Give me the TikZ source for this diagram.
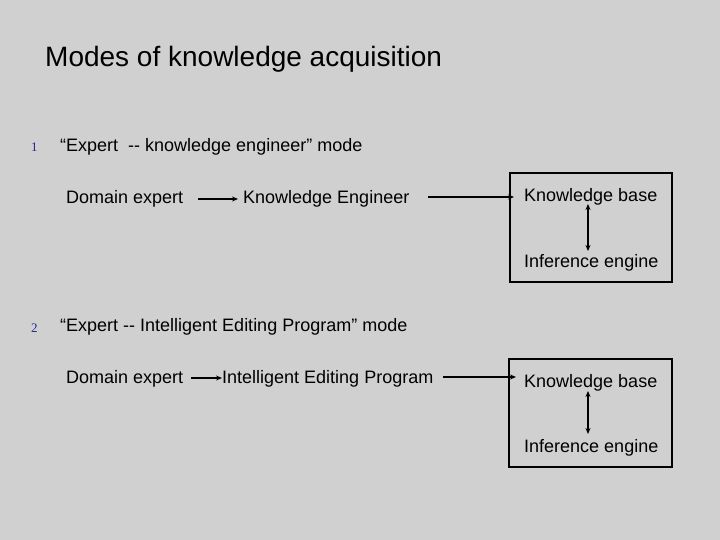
\documentclass[tikz,border=0pt]{standalone}
\usepackage{fontspec}
\setmainfont{Liberation Sans}
\newfontfamily\numfont{Liberation Serif}
\usetikzlibrary{arrows.meta}
\definecolor{bg}{RGB}{208,208,208}
\definecolor{numblue}{RGB}{40,40,150}
\tikzset{
  lbl/.style={anchor=west, inner sep=0pt, font=\fontsize{18}{21}\selectfont},
  head/.style={anchor=west, inner sep=0pt, font=\fontsize{18}{21}\selectfont},
  num/.style={anchor=west, inner sep=0pt, text=numblue, font=\numfont\fontsize{13}{15}\selectfont},
  conn/.style={line width=1.3pt, -{Stealth[length=6pt,width=5pt]}},
  dconn/.style={line width=1.3pt, {Stealth[length=6pt,width=5pt]}-{Stealth[length=6pt,width=5pt]}},
  kbox/.style={draw, line width=1.5pt}
}
\begin{document}
\begin{tikzpicture}[x=1pt,y=-1pt]
\fill[bg] (0,0) rectangle (720,540);
\useasboundingbox (0,0) rectangle (720,540);
\node[anchor=west, inner sep=0pt, font=\fontsize{28}{32}\selectfont] (title) at (45,59) {Modes of knowledge acquisition};
% mode 1
\node[num] (n1) at (31,147) {1};
\node[head] (h1) at (60,147) {“Expert\ \ -{}- knowledge engineer” mode};
\node[lbl] (de1) at (66,199) {Domain expert};
\node[lbl] (ke1) at (243,199) {Knowledge Engineer};
\draw[kbox] (510,173) rectangle (672,282);
\node[lbl] (kb1) at (524,197) {Knowledge base};
\node[lbl] (ie1) at (524,263) {Inference engine};
\coordinate (a1s) at (198,199);
\coordinate (a1e) at (238,199);
\draw[conn] (a1s) -- (a1e);
\coordinate (b1s) at (428,197);
\coordinate (b1e) at (514,197);
\draw[conn] (b1s) -- (b1e);
\coordinate (c1s) at (588,204);
\coordinate (c1e) at (588,251);
\draw[dconn] (c1s) -- (c1e);
% mode 2
\node[num] (n2) at (31,328) {2};
\node[head] (h2) at (60,327) {“Expert -{}- Intelligent Editing Program” mode};
\node[lbl] (de2) at (66,379) {Domain expert};
\node[lbl] (iep) at (222,379) {Intelligent Editing Program};
\draw[kbox] (509,359) rectangle (672,467);
\node[lbl] (kb2) at (524,383) {Knowledge base};
\node[lbl] (ie2) at (524,448) {Inference engine};
\coordinate (a2s) at (191,378);
\coordinate (a2e) at (222,378);
\draw[conn] (a2s) -- (a2e);
\coordinate (b2s) at (443,377);
\coordinate (b2e) at (516,377);
\draw[conn] (b2s) -- (b2e);
\coordinate (c2s) at (588,391);
\coordinate (c2e) at (588,434);
\draw[dconn] (c2s) -- (c2e);
\end{tikzpicture}
\end{document}
